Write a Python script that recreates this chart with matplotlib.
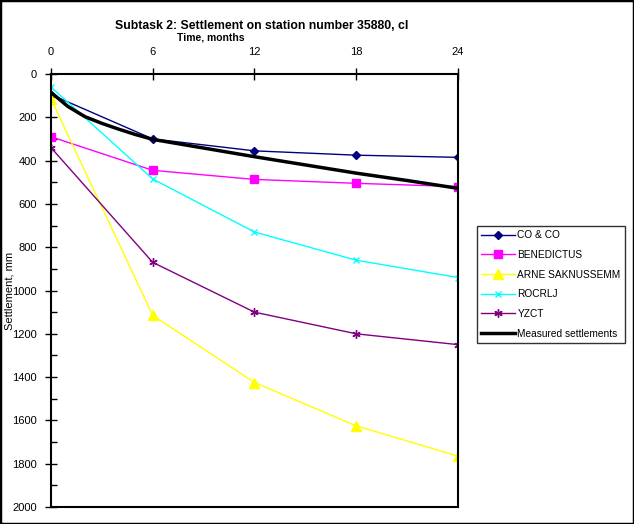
import matplotlib
matplotlib.use("Agg")
import matplotlib.pyplot as plt
from matplotlib.patches import Rectangle
from matplotlib.ticker import MultipleLocator

plt.rcParams['font.family'] = ['Liberation Sans', 'DejaVu Sans']

# time in months
months = [0, 6, 12, 18, 24]

co_co = [95, 300, 355, 375, 385]
benedictus = [290, 445, 487, 505, 520]
arne = [115, 1115, 1425, 1625, 1765]
rocrlj = [60, 485, 730, 860, 940]
yzct = [340, 870, 1100, 1200, 1250]

# measured settlements (continuous record)
meas_t = [0, 1, 2, 3, 4, 5, 6, 9, 12, 15, 18, 21, 24]
meas_s = [85, 150, 197, 228, 255, 280, 302, 342, 382, 420, 458, 492, 528]

fig = plt.figure(figsize=(6.34, 5.24), dpi=100, facecolor='w')
ax = fig.add_axes([0.0804, 0.0324, 0.642, 0.8264])

ax.plot(months, co_co, color='#000080', marker='D', markersize=4.5, lw=1, label='CO & CO')
ax.plot(months, benedictus, color='#ff00ff', marker='s', markersize=6, lw=1, label='BENEDICTUS')
ax.plot(months, arne, color='#ffff00', marker='^', markersize=7, lw=1, label='ARNE SAKNUSSEMM')
ax.plot(months, rocrlj, color='#00ffff', marker='x', markersize=5, lw=1, label='ROCRLJ')
ax.plot(months, yzct, color='#800080', marker=(6, 2, 0), markersize=6, lw=1, label='YZCT')
ax.plot(meas_t, meas_s, color='k', lw=2.5, label='Measured settlements')

ax.set_xlim(0, 24)
ax.set_ylim(2000, 0)
ax.xaxis.set_major_locator(MultipleLocator(6))
ax.yaxis.set_major_locator(MultipleLocator(200))
ax.yaxis.set_minor_locator(MultipleLocator(100))
ax.xaxis.tick_top()
ax.tick_params(axis='x', which='major', direction='inout', length=8, width=1, labelsize=8, pad=8)
ax.tick_params(axis='y', which='major', direction='inout', length=8, width=1, labelsize=8, pad=6)
ax.tick_params(axis='y', which='minor', direction='in', length=4, width=1)
for s in ax.spines.values():
    s.set_linewidth(1.5)

ax.set_ylabel('Settlement, mm', fontsize=8)
ax.yaxis.set_label_coords(-0.09, 0.5)

fig.text(0.413, 0.951, 'Subtask 2: Settlement on station number 35880, cl',
         ha='center', va='center', fontsize=8.8, fontweight='bold')
fig.text(0.333, 0.929, 'Time, months', ha='center', va='center', fontsize=7.5,
         fontweight='bold')

leg = fig.legend(loc='upper left', bbox_to_anchor=(0.752, 0.569), fontsize=7.3,
                 frameon=True, fancybox=False, edgecolor='k', borderpad=0.45,
                 labelspacing=0.95, handlelength=3.3, handletextpad=0.25,
                 borderaxespad=0)
leg.get_frame().set_linewidth(1)

fig.patches.append(Rectangle((0, 0), 1, 1, transform=fig.transFigure,
                             fill=False, edgecolor='k', lw=2.5))

fig.savefig('out.png', dpi=100)
